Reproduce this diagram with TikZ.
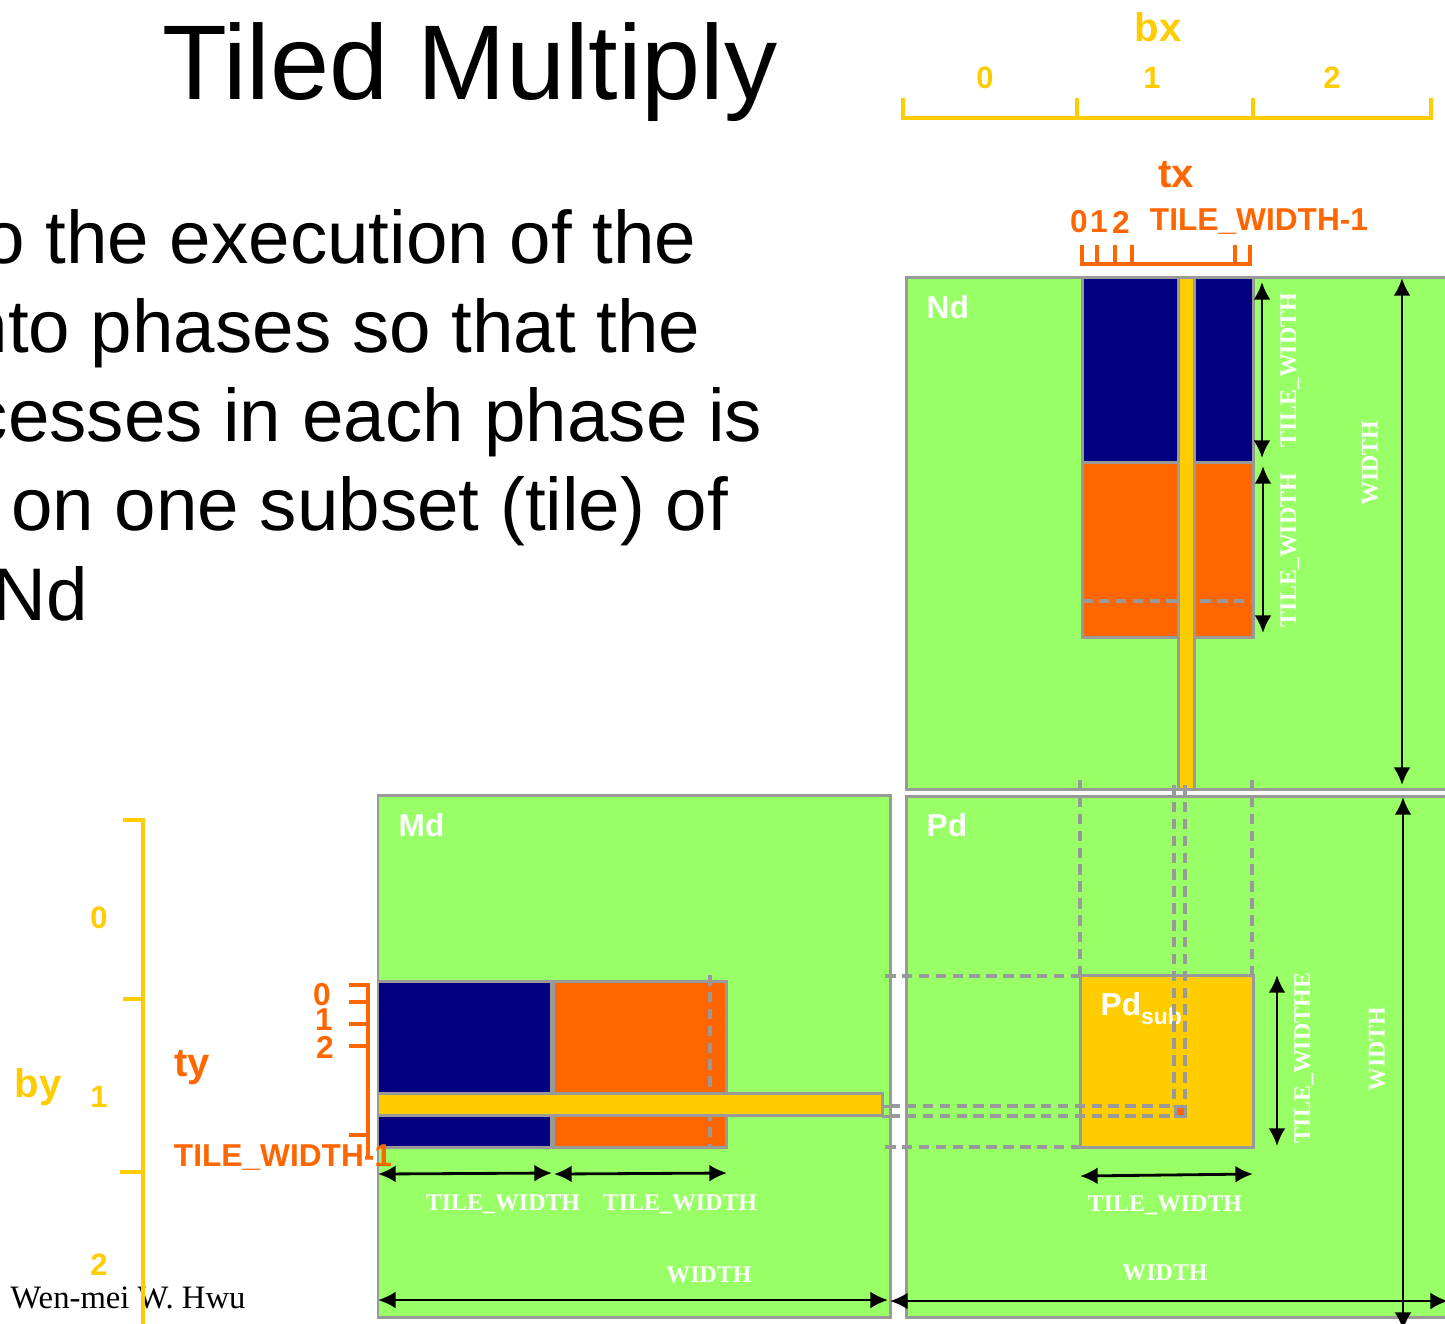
\documentclass[tikz,border=0pt]{standalone}
\usepackage{fontspec}
\setmainfont{Liberation Sans}
\newfontfamily\tnr{Liberation Serif}
\usetikzlibrary{arrows.meta}
\definecolor{matgreen}{HTML}{99FF66}
\definecolor{matgray}{HTML}{999999}
\definecolor{tilenavy}{HTML}{000080}
\definecolor{tileorange}{HTML}{FF6600}
\definecolor{tilegold}{HTML}{FFCC00}

\begin{document}
\begin{tikzpicture}[x=0.01cm, y=-0.01cm,
    mat/.style={draw=matgray, line width=0.85pt, fill=matgreen},
    tilebox/.style={draw=matgray, line width=0.85pt},
    proj/.style={draw=matgray, line width=0.95pt, dash pattern=on 3pt off 1.8pt},
    dim/.style={line width=0.8pt, {Latex[length=5pt,width=4.8pt]}-{Latex[length=5pt,width=4.8pt]}},
    wlbl/.style={text=white, inner sep=0, font=\tnr\bfseries\fontsize{6.8}{8}\selectfont},
    mlbl/.style={text=white, inner sep=0, anchor=base west, font=\bfseries\fontsize{9}{11}\selectfont},
    blbl/.style={text=tilegold, inner sep=0, font=\bfseries\fontsize{11.4}{13}\selectfont},
    tlbl/.style={text=tileorange, inner sep=0, font=\bfseries\fontsize{11.4}{13}\selectfont},
    bnum/.style={text=tilegold, inner sep=0, font=\bfseries\fontsize{8.8}{10}\selectfont},
    tnum/.style={text=tileorange, inner sep=0, font=\bfseries\fontsize{9}{10}\selectfont},
    body/.style={inner sep=0, anchor=base east, font=\fontsize{21.2}{25}\selectfont}]
    \useasboundingbox (0,0) rectangle (1445,1323);
    \clip (0,0) rectangle (1445,1323);

    % タイトルと本文
    \node[inner sep=0, anchor=base, font=\fontsize{30.2}{36}\selectfont] (title) at (470,99) {Tiled Multiply};
    \node[body] (line1) at (697,263) {o the execution of the};
    \node[body] (line2) at (701,352) {nto phases so that the};
    \node[body] (line3) at (763,441) {cesses in each phase is};
    \node[body] (line4) at (729,530) {on one subset (tile) of};
    \node[body] (line5) at (89,620) {Nd};

    % Nd
    \draw[mat] (906,277) rectangle (1470,789);
    \draw[tilebox, fill=tilenavy] (1082,277) rectangle (1253,462);
    \draw[tilebox, fill=tileorange] (1082,462) rectangle (1253,637);
    \draw[proj] (1082,601) -- (1253,601);
    \draw[tilebox, fill=tilegold] (1178,277) rectangle (1194,789);
    \node[mlbl] (ndname) at (926,318) {Nd};

    % Md, Pd
    \draw[mat] (378,795) rectangle (890,1317);
    \draw[mat] (906,796) rectangle (1470,1317);
    \node[mlbl] (mdname) at (398,836) {Md};
    \node[mlbl] (pdname) at (926,836) {Pd};

    % Pdsub
    \draw[tilebox, fill=tilegold] (1080,975) rectangle (1253,1147);
    \node[mlbl] (pdsub) at (1100,1015) {Pd\raisebox{-0.55ex}{\fontsize{6.5}{7}\selectfont sub}};

    % Md のタイル
    \draw[tilebox, fill=tilenavy] (378,981) rectangle (551,1147);
    \draw[tilebox, fill=tileorange] (553,981) rectangle (726,1147);
    \draw[proj] (710,975) -- (710,1147);
    \draw[tilebox, fill=tilegold] (378,1093) rectangle (882,1115);
    \draw[tilebox] (882,1106) -- (889,1106) (882,1116) -- (889,1116);

    % 投影の破線
    \draw[proj] (1080,780) -- (1080,975);
    \draw[proj] (1252,780) -- (1252,975);
    \draw[proj] (1174,785) -- (1174,1106);
    \draw[proj] (1185,785) -- (1185,1106);
    \draw[proj] (885,976) -- (1080,976);
    \draw[proj] (885,1147) -- (1080,1147);
    \draw[proj] (889,1106) -- (1174,1106);
    \draw[proj] (889,1116) -- (1174,1116);
    \draw[tilebox, fill=tileorange] (1175,1106) rectangle (1185,1116);

    % 寸法の矢印
    \draw[dim] (1262,282) -- (1262,458);
    \draw[dim] (1263,466) -- (1263,633);
    \draw[dim] (1402,278) -- (1402,785);
    \draw[dim] (1403,797) -- (1403,1330);
    \draw[dim] (890,1301) -- (1448,1301);
    \draw[dim] (378,1300) -- (888,1300);
    \draw[dim] (378,1174) -- (552,1173);
    \draw[dim] (554,1174) -- (727,1173);
    \draw[dim] (1080,1176) -- (1253,1174);
    \draw[dim] (1277,975) -- (1277,1146);

    \node[wlbl, rotate=90] (ndtw1) at (1290,370) {TILE\_WIDTH};
    \node[wlbl, rotate=90] (ndtw2) at (1290,550) {TILE\_WIDTH};
    \node[wlbl, rotate=90] (ndw) at (1370,463) {WIDTH};
    \node[wlbl, rotate=90] (pdtw) at (1304,1058) {TILE\_WIDTHE};
    \node[wlbl, rotate=90] (pdw) at (1377,1049) {WIDTH};
    \node[wlbl] (mdtw1) at (503,1204) {TILE\_WIDTH};
    \node[wlbl] (mdtw2) at (680,1204) {TILE\_WIDTH};
    \node[wlbl] (mdw) at (709,1275) {WIDTH};
    \node[wlbl] (pdtwh) at (1165,1205) {TILE\_WIDTH};
    \node[wlbl] (pdwh) at (1165,1273) {WIDTH};

    % bx, tx
    \draw[tilegold, line width=1.4pt] (903,98) -- (903,118) -- (1431,118) -- (1431,98);
    \draw[tilegold, line width=1.4pt] (1077,98) -- (1077,118);
    \draw[tilegold, line width=1.4pt] (1253,98) -- (1253,118);
    \node[blbl] (bx) at (1158,27) {bx};
    \node[bnum] (bx0) at (985,78) {0};
    \node[bnum] (bx1) at (1152,78) {1};
    \node[bnum] (bx2) at (1332,78) {2};

    \draw[tileorange, line width=1.2pt] (1082,245) -- (1082,264) -- (1250,264) -- (1250,245);
    \draw[tileorange, line width=1.2pt] (1097,245) -- (1097,264);
    \draw[tileorange, line width=1.2pt] (1115,245) -- (1115,264);
    \draw[tileorange, line width=1.2pt] (1132,245) -- (1132,264);
    \draw[tileorange, line width=1.2pt] (1235,245) -- (1235,264);
    \node[tlbl] (tx) at (1176,175) {tx};
    \node[tnum] (tx0) at (1079,222) {0};
    \node[tnum] (tx1) at (1099,222) {1};
    \node[tnum] (tx2) at (1121,222) {2};
    \node[tnum] (txlast) at (1259,222) {TILE\_WIDTH-1};

    % by, ty
    \node[inner sep=0, font=\tnr\fontsize{9.3}{11}\selectfont] (author) at (128,1298) {Wen-mei W. Hwu};
    \draw[tilegold, line width=1.4pt] (123,820) -- (143,820) -- (143,1330);
    \draw[tilegold, line width=1.4pt] (123,999) -- (143,999);
    \draw[tilegold, line width=1.4pt] (120,1172) -- (143,1172);
    \node[blbl] (by) at (38,1087) {by};
    \node[bnum] (by0) at (99,918) {0};
    \node[bnum] (by1) at (99,1097) {1};
    \node[bnum] (by2) at (99,1265) {2};

    \draw[tileorange, line width=1.2pt] (349,985) -- (368,985) -- (368,1156);
    \draw[tileorange, line width=1.2pt] (349,1002) -- (368,1002);
    \draw[tileorange, line width=1.2pt] (349,1024) -- (368,1024);
    \draw[tileorange, line width=1.2pt] (349,1046) -- (368,1046);
    \draw[tileorange, line width=1.2pt] (349,1135) -- (368,1135);
    \node[tlbl] (ty) at (192,1068) {ty};
    \node[tnum] (ty0) at (322,995) {0};
    \node[tnum] (ty1) at (324,1020) {1};
    \node[tnum] (ty2) at (325,1047) {2};
    \node[tnum] (tylast) at (283,1158) {TILE\_WIDTH-1};
\end{tikzpicture}
\end{document}
